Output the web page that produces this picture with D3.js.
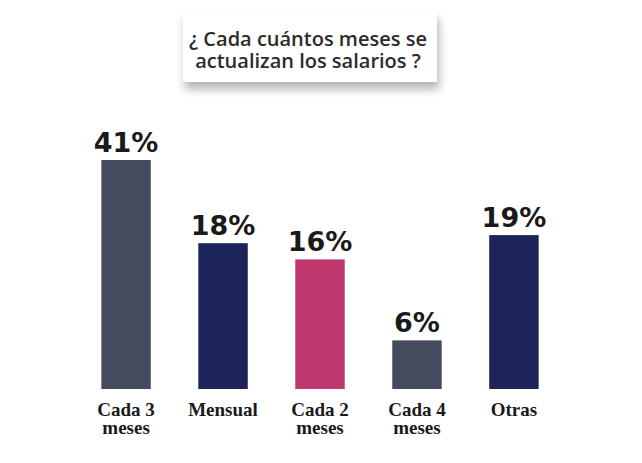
<!DOCTYPE html>
<html>
<head>
<meta charset="utf-8">
<script src="https://cdn.jsdelivr.net/npm/d3@7"></script>
<style>
  body { margin: 0; background: #fff; }
  svg { display: block; }
</style>
</head>
<body>
<svg id="chart" width="642" height="463"></svg>
<script>
// data
var categories = ["Cada 3 meses", "Mensual", "Cada 2 meses", "Cada 4 meses", "Otras"]
var labelLines = [["Cada 3", "meses"], ["Mensual"], ["Cada 2", "meses"], ["Cada 4", "meses"], ["Otras"]]
var values = [41, 18, 16, 6, 19]
var barColors = ["#454b5f", "#1c2459", "#c0396e", "#454b5f", "#1c2459"]
var titleLines = ["¿ Cada cuántos meses se", "actualizan los salarios ?"]

var screen = {width: 642, height: 463}
var margin = {left: 80, right: 82, top: 160, bottom: 74}
var graph = {
    width: screen.width - margin.left - margin.right,
    height: screen.height - margin.top - margin.bottom
}

var svg = d3.select("#chart")

// title box with soft shadow
var defs = svg.append("defs")
var f = defs.append("filter").attr("id", "shadow")
    .attr("x", "-20%").attr("y", "-30%").attr("width", "140%").attr("height", "180%")
f.append("feDropShadow")
    .attr("dx", 2).attr("dy", 7).attr("stdDeviation", 5)
    .attr("flood-color", "#000").attr("flood-opacity", 0.3)

svg.append("rect")
    .attr("x", 183).attr("y", 12)
    .attr("width", 254).attr("height", 70)
    .attr("fill", "#fff")
    .attr("filter", "url(#shadow)")

svg.append("g").selectAll("text")
    .data(titleLines)
    .enter()
    .append("text")
        .attr("x", 308)
        .attr("y", function(d, i) { return 46 + i * 22 })
        .attr("text-anchor", "middle")
        .style("font-family", "'Open Sans', sans-serif")
        .style("font-size", "20px")
        .style("font-weight", 600)
        .style("fill", "#2b2b2b")
        .text(function(d) { return d })

var target = svg.append("g")
    .attr("transform", "translate(" + margin.left + "," + margin.top + ")")

var xScale = d3.scaleBand()
    .domain(categories)
    .range([0, graph.width])
    .paddingInner(0.49)
    .paddingOuter(0.22)

// the tall first bar is drawn shorter than its share, so the scale bends at 20%
var yScale = d3.scaleLinear()
    .domain([0, 20, 41])
    .range([graph.height, graph.height - 162, 0])

target.selectAll("rect.bar")
    .data(values)
    .enter()
    .append("rect")
        .attr("class", "bar")
        .attr("x", function(d, i) { return xScale(categories[i]) })
        .attr("y", function(d) { return yScale(d) })
        .attr("width", xScale.bandwidth())
        .attr("height", function(d) { return graph.height - yScale(d) })
        .attr("fill", function(d, i) { return barColors[i] })

target.selectAll("text.value")
    .data(values)
    .enter()
    .append("text")
        .attr("class", "value")
        .attr("x", function(d, i) { return xScale(categories[i]) + xScale.bandwidth() / 2 })
        .attr("y", function(d) { return yScale(d) - 8 })
        .attr("text-anchor", "middle")
        .style("font-family", "'DejaVu Sans', sans-serif")
        .style("font-size", "27px")
        .style("font-weight", "bold")
        .style("fill", "#1a1a1a")
        .text(function(d) { return d + "%" })

var cats = target.selectAll("text.cat")
    .data(labelLines)
    .enter()
    .append("text")
        .attr("class", "cat")
        .attr("x", function(d, i) { return xScale(categories[i]) + xScale.bandwidth() / 2 })
        .attr("y", graph.height + 27)
        .attr("text-anchor", "middle")
        .style("font-family", "'Liberation Serif', serif")
        .style("font-size", "19px")
        .style("font-weight", "bold")
        .style("fill", "#1a1a1a")

cats.selectAll("tspan")
    .data(function(d) { return d })
    .enter()
    .append("tspan")
        .attr("x", function() { return d3.select(this.parentNode).attr("x") })
        .attr("dy", function(d, i) { return i == 0 ? 0 : 18 })
        .text(function(d) { return d })
</script>
</body>
</html>
